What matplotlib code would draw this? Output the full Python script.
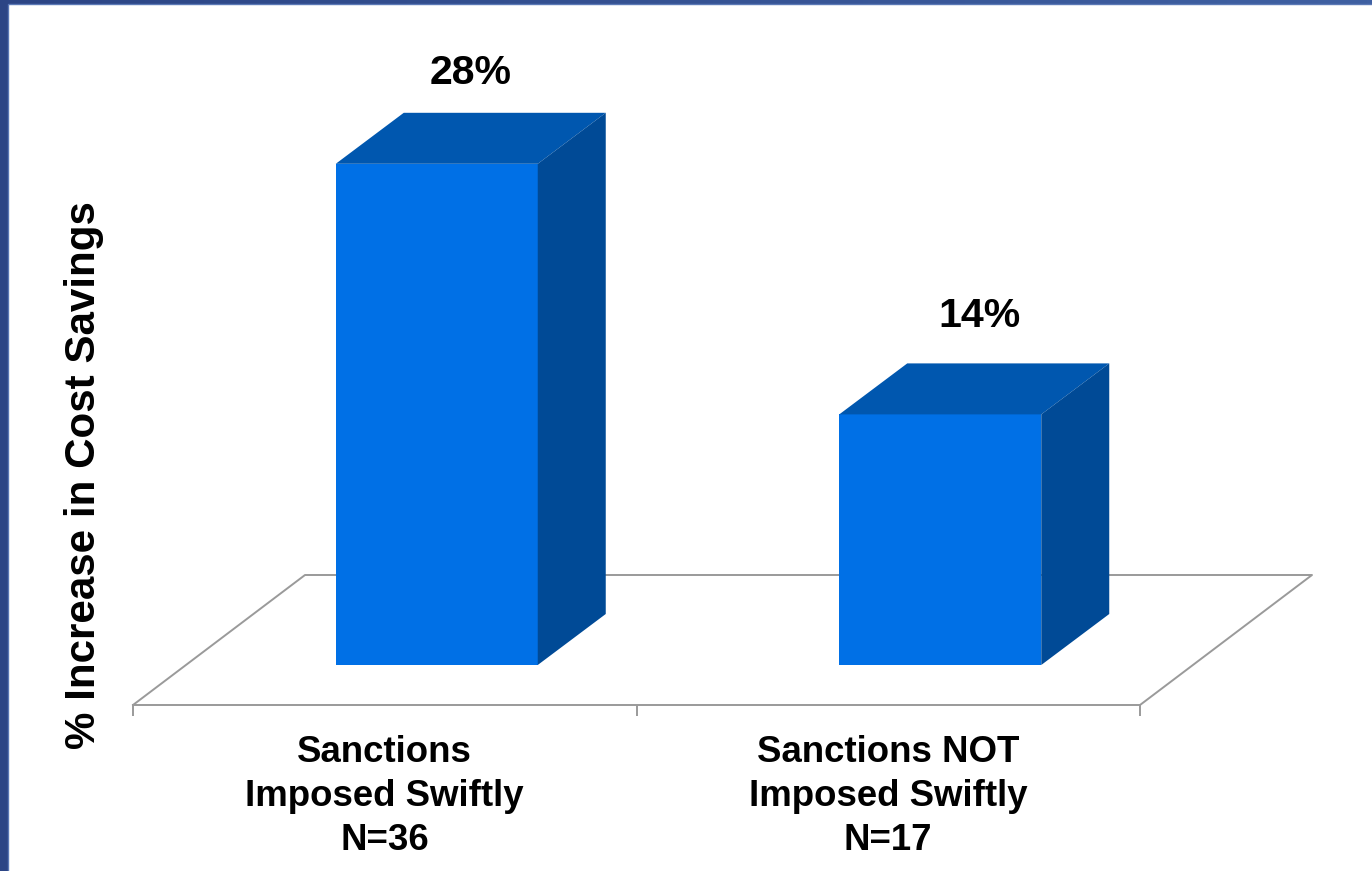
import numpy as np
import matplotlib
matplotlib.use('Agg')
import matplotlib.pyplot as plt
from matplotlib.patches import Polygon

categories = ['Sanctions\nImposed Swiftly\nN=36', 'Sanctions NOT\nImposed Swiftly\nN=17']
values = [28, 14]
value_labels = ['28%', '14%']
y_label = '% Increase in Cost Savings'

# layout, in pixels at dpi 100
W, H = 1372, 871
AX_L, AX_R, AX_BOT, AX_TOP = 133, 1140, 705, 40
ZERO_PX = 665          # pixel row of value 0 on the bar fronts
PX_PER_PCT = 17.9
BAR_DX, BAR_DY = 68, 51
FLOOR_DX, FLOOR_DY = 172, 130
LABEL_DX = [34, 39]
LABEL_DY = [91, 98]

FRONT = '#0070E6'
TOP = '#0057AF'
SIDE = '#004A96'
GREY = '#9A9A9A'

plt.rcParams['font.family'] = ['Liberation Sans', 'DejaVu Sans']

fig = plt.figure(figsize=(W / 100, H / 100), dpi=100)

# === frame: blue gradient with white slide area ===
bg = fig.add_axes([0, 0, 1, 1], zorder=0)
grad = np.linspace(0, 1, 256).reshape(1, -1)
bg.imshow(grad, aspect='auto', extent=(0, W, H, 0),
          cmap=matplotlib.colors.LinearSegmentedColormap.from_list('frame', ['#2C4585', '#3F60A2']))
bg.add_patch(plt.Rectangle((8, 4), W, H, fc='white', ec='#5A78B5', lw=1))
bg.set_xlim(0, W)
bg.set_ylim(H, 0)
bg.axis('off')

# === chart axes ===
ax = fig.add_axes([AX_L / W, 1 - AX_BOT / H, (AX_R - AX_L) / W, (AX_BOT - AX_TOP) / H], zorder=1)
ax.patch.set_alpha(0)
ax.set_xlim(0, 2)
ax.set_ylim((ZERO_PX - AX_BOT) / PX_PER_PCT, (ZERO_PX - AX_TOP) / PX_PER_PCT)

for s in ['top', 'left', 'right']:
    ax.spines[s].set_visible(False)
ax.spines['bottom'].set_color(GREY)
ax.spines['bottom'].set_linewidth(1.4)

ax.set_yticks([])
ax.set_xticks([0, 1, 2])
ax.set_xticklabels([])
ax.tick_params(axis='x', which='major', length=8, width=1.4, color=GREY)
ax.set_xticks([0.5, 1.5], minor=True)
ax.set_xticklabels(categories, minor=True, fontsize=26.4, fontweight='bold', linespacing=1.33)
ax.tick_params(axis='x', which='minor', length=0, pad=21.8)

fig.text(84 / W, 1 - 475 / H, y_label, rotation=90, ha='center', va='center',
         fontsize=30.3, fontweight='bold')


def px(x, y):
    # data position to pixel position, y measured upward
    return ax.transData.transform((x, y))


# === floor outline, behind the bars ===
x0, y0 = px(0, ax.get_ylim()[0])
x1, _ = px(2, 0)
ax.add_line(plt.Line2D([x0, x0 + FLOOR_DX, x1 + FLOOR_DX, x1],
                       [y0, y0 + FLOOR_DY, y0 + FLOOR_DY, y0],
                       color=GREY, lw=1.4, transform=None, zorder=1, clip_on=False))

# === bars: front face from the axes, depth faces as polygons ===
bar_w = 202 / ((AX_R - AX_L) / 2)
shift = (FLOOR_DX - BAR_DX) / 2 / ((AX_R - AX_L) / 2)
positions = [0.5 + shift, 1.5 + shift]
ax.bar(positions, values, width=bar_w, color=FRONT, linewidth=0, zorder=3)

for p, v, lab, dx, dy in zip(positions, values, value_labels, LABEL_DX, LABEL_DY):
    xl, yb = px(p - bar_w / 2, 0)
    xr, yt = px(p + bar_w / 2, v)
    ax.add_patch(Polygon([(xl, yt), (xr, yt), (xr + BAR_DX, yt + BAR_DY), (xl + BAR_DX, yt + BAR_DY)],
                         closed=True, fc=TOP, lw=0, transform=None, zorder=3, clip_on=False))
    ax.add_patch(Polygon([(xr, yb), (xr + BAR_DX, yb + BAR_DY), (xr + BAR_DX, yt + BAR_DY), (xr, yt)],
                         closed=True, fc=SIDE, lw=0, transform=None, zorder=3, clip_on=False))
    ax.annotate(lab, xy=(p, v), xytext=(dx * 0.72, dy * 0.72), textcoords='offset points',
                ha='center', va='center', fontsize=29.5, fontweight='bold', annotation_clip=False)

fig.savefig('out.png', dpi=100)
